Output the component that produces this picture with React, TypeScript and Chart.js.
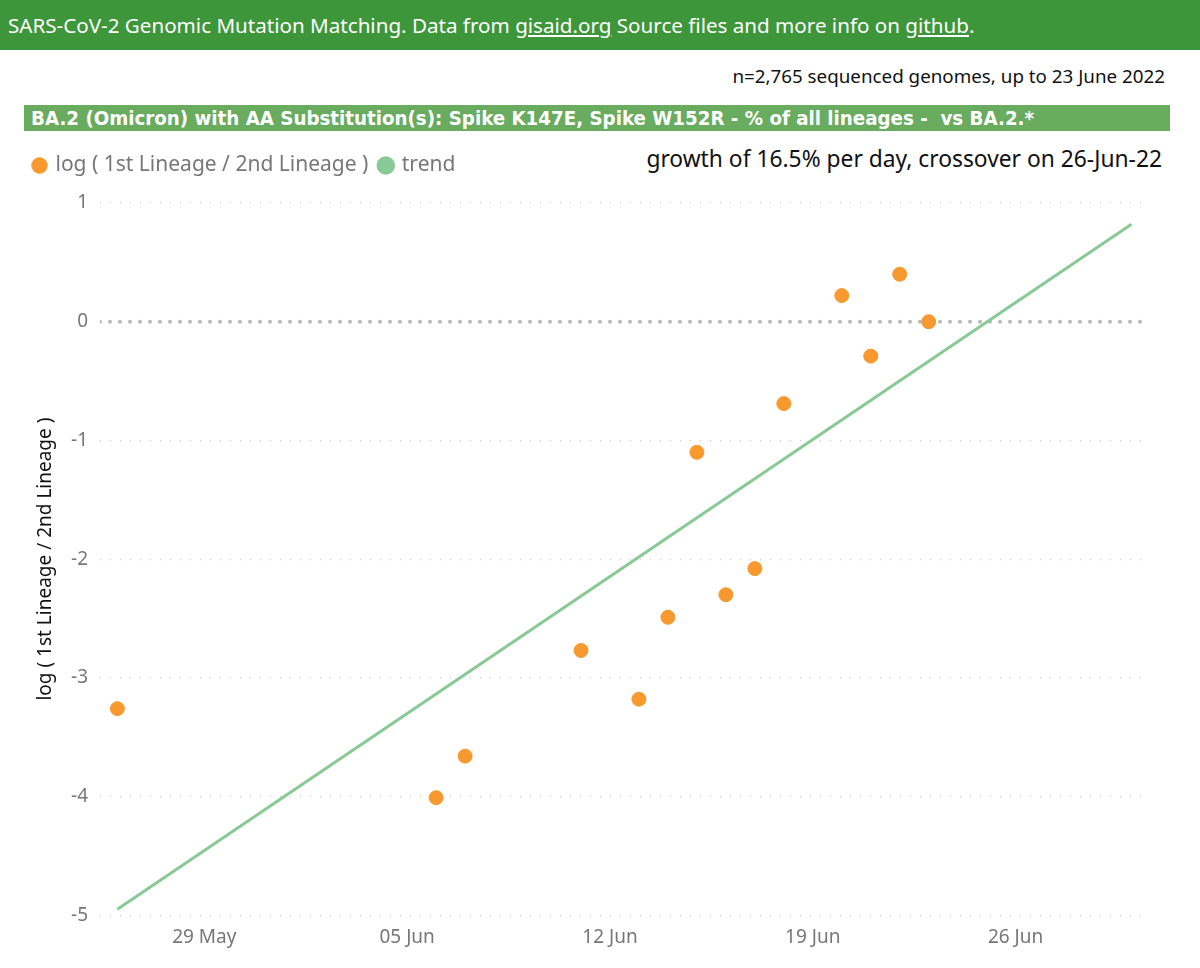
import { useEffect, useRef } from 'react';
import { Chart, registerables } from 'chart.js';
Chart.register(...registerables);

// day 0 = 26 May 2022
const pointDays = [0, 11, 12, 16, 18, 19, 20, 21, 22, 23, 25, 26, 27, 28];
const pointValues = [-3.26, -4.01, -3.66, -2.77, -3.18, -2.49, -1.1, -2.3, -2.08, -0.69, 0.22, -0.29, 0.4, 0.0];
const trendDays = [0, 35];
const trendValues = [-4.95, 0.82];
const tickDays = [3, 10, 17, 24, 31];
const tickLabels = ['29 May', '05 Jun', '12 Jun', '19 Jun', '26 Jun'];

const FONT = "'Noto Sans', 'Open Sans', sans-serif";

// push the plot down a little below the legend
const legendSpacer = {
  id: 'legendSpacer',
  beforeInit(chart: any) {
    const fit = chart.legend.fit;
    chart.legend.fit = function () {
      fit.bind(this)();
      this.height += 17;
    };
  },
};

export default function App() {
  const canvasRef = useRef<HTMLCanvasElement>(null);
  const chartRef = useRef<Chart | null>(null);

  useEffect(() => {
    document.body.style.margin = '0';
    if (!canvasRef.current) return;
    if (chartRef.current) chartRef.current.destroy();

    chartRef.current = new Chart(canvasRef.current, {
      type: 'scatter',
      data: {
        datasets: [
          {
            label: 'log ( 1st Lineage / 2nd Lineage )',
            data: pointDays.map((d, i) => ({ x: d, y: pointValues[i] })),
            backgroundColor: '#f7992f',
            borderColor: '#f7992f',
            pointRadius: 7,
            pointHoverRadius: 7,
          },
          {
            label: 'trend',
            type: 'line',
            data: trendDays.map((d, i) => ({ x: d, y: trendValues[i] })),
            borderColor: '#88c995',
            backgroundColor: '#88c995',
            borderWidth: 3,
            pointRadius: 0,
          },
          {
            label: 'zero',
            type: 'line',
            data: [{ x: -0.6, y: 0 }, { x: 35.5, y: 0 }],
            borderColor: '#b8b8b8',
            borderWidth: 4,
            borderDash: [0, 10],
            borderCapStyle: 'round',
            pointRadius: 0,
          },
        ],
      },
      plugins: [legendSpacer],
      options: {
        animation: false,
        responsive: false,
        maintainAspectRatio: false,
        layout: { padding: { left: 22, right: 54, top: 3, bottom: 16 } },
        plugins: {
          legend: {
            display: true,
            position: 'top',
            align: 'start',
            labels: {
              usePointStyle: true,
              pointStyle: 'circle',
              boxWidth: 11,
              boxHeight: 11,
              padding: 12,
              color: '#777',
              font: { size: 21, family: FONT },
              filter: item => item.text !== 'zero',
            },
          },
          tooltip: { enabled: false },
        },
        scales: {
          x: {
            type: 'linear',
            min: -0.6,
            max: 35.5,
            afterBuildTicks: scale => {
              scale.ticks = tickDays.map(v => ({ value: v }));
            },
            ticks: {
              color: '#777',
              font: { size: 19, family: FONT },
              maxRotation: 0,
              autoSkip: false,
              callback: v => tickLabels[tickDays.indexOf(Number(v))] ?? '',
            },
            grid: { display: false },
            border: { display: false },
          },
          y: {
            type: 'linear',
            min: -5,
            max: 1,
            afterFit: scale => { scale.width = 78; },
            ticks: {
              stepSize: 1,
              color: '#777',
              padding: 12,
              font: { size: 19, family: FONT },
            },
            grid: { color: '#c8c8c8', lineWidth: 1.2, drawTicks: false },
            border: { display: false, dash: [1, 9] },
            title: {
              display: true,
              text: 'log ( 1st Lineage / 2nd Lineage )',
              color: '#111',
              font: { size: 19, family: FONT },
              padding: { top: 12, bottom: 0 },
            },
          },
        },
      },
    });

    return () => { chartRef.current?.destroy(); };
  }, []);

  return (
    <div style={{ position: 'relative', width: 1200, height: 968, background: '#fff', overflow: 'hidden', fontFamily: FONT }}>
      <div style={{ position: 'absolute', left: 0, top: 0, width: 1200, height: 50, background: '#3e963a', color: '#fff', fontSize: 20.6, lineHeight: '50px', paddingLeft: 8, boxSizing: 'border-box', whiteSpace: 'nowrap' }}>
        SARS-CoV-2 Genomic Mutation Matching. Data from <u>gisaid.org</u> Source files and more info on <u>github</u>.
      </div>
      <div style={{ position: 'absolute', right: 35, top: 62, fontSize: 18.8, lineHeight: '28px', color: '#111', whiteSpace: 'nowrap' }}>
        n=2,765 sequenced genomes, up to 23 June 2022
      </div>
      <div style={{ position: 'absolute', left: 24, top: 105, width: 1146, height: 26, background: '#69ab5f', color: '#fff', fontSize: 20.3, fontWeight: 'bold', lineHeight: '26px', paddingLeft: 7, boxSizing: 'border-box', whiteSpace: 'pre', fontFamily: "'DejaVu Sans Condensed', 'DejaVu Sans', sans-serif" }}>
        {'BA.2 (Omicron) with AA Substitution(s): Spike K147E, Spike W152R - % of all lineages -  vs BA.2.*'}
      </div>
      <div style={{ position: 'absolute', right: 38, top: 142, fontSize: 22.8, lineHeight: '34px', color: '#111', whiteSpace: 'nowrap' }}>
        growth of 16.5% per day, crossover on 26-Jun-22
      </div>
      <canvas ref={canvasRef} width={1200} height={828} style={{ position: 'absolute', left: 0, top: 140 }} role="img" aria-label="Log ratio of lineages with trend" />
    </div>
  );
}
